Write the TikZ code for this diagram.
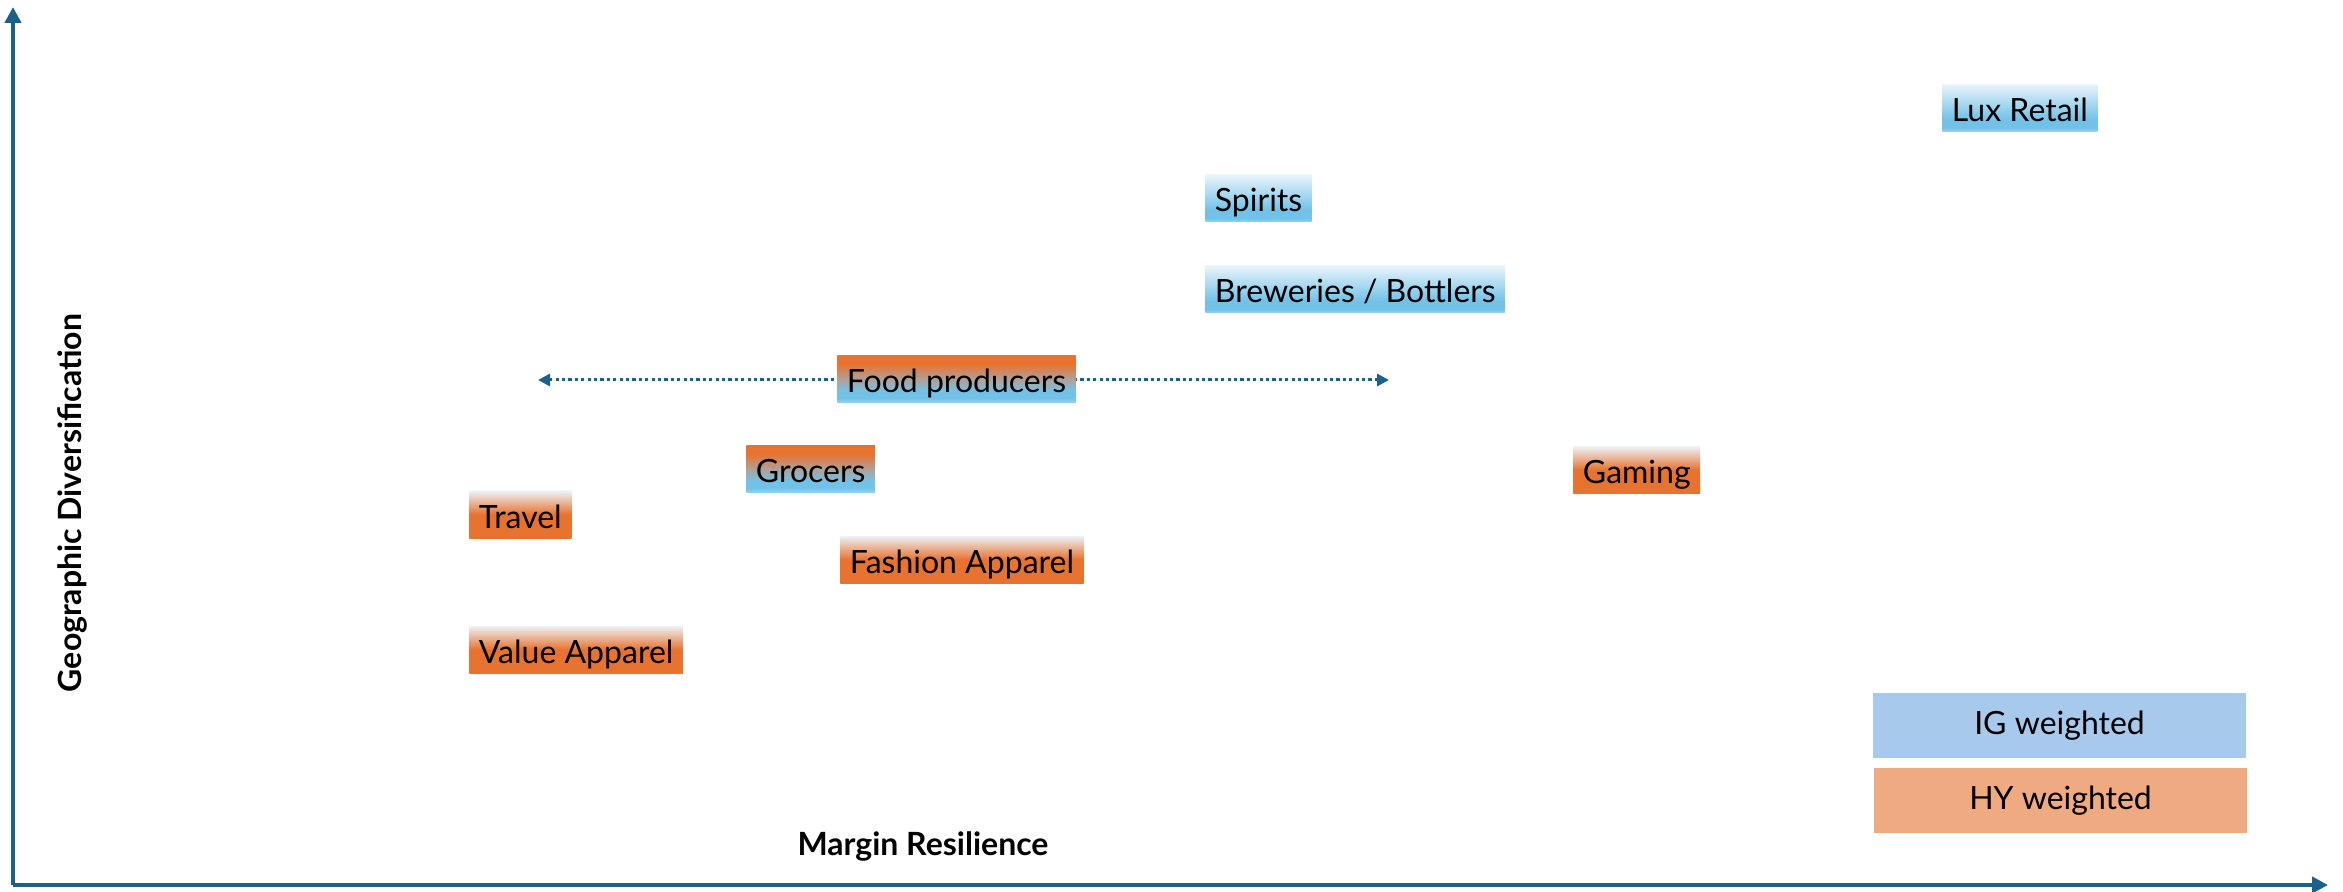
\documentclass[tikz,border=0pt]{standalone}
\usepackage{fontspec}
\setmainfont{Lato}
\usetikzlibrary{arrows.meta}
\definecolor{axisblue}{HTML}{1B6189}
\definecolor{iglegend}{HTML}{A6C9EC}
\definecolor{hylegend}{HTML}{F0AA82}
\definecolor{bluetop}{HTML}{E8F4FB}
\definecolor{bluemid}{HTML}{72C2E8}
\definecolor{bluebot}{HTML}{9CD3EF}
\definecolor{orangetop}{HTML}{EEF1F6}
\definecolor{orangemid}{HTML}{EAB08F}
\definecolor{orangebot}{HTML}{E8722F}
\definecolor{mixgrey}{HTML}{AFA29A}
\pgfdeclareverticalshading{igshade}{100bp}{color(0bp)=(bluebot); color(25bp)=(bluebot); color(29bp)=(bluemid); color(38bp)=(bluemid); color(75bp)=(bluetop); color(100bp)=(bluetop)}
\pgfdeclareverticalshading{hyshade}{100bp}{color(0bp)=(orangebot); color(25bp)=(orangebot); color(50bp)=(orangebot); color(62bp)=(orangemid); color(75bp)=(orangetop); color(100bp)=(orangetop)}
\pgfdeclareverticalshading{mixshade}{100bp}{color(0bp)=(bluebot); color(25bp)=(bluebot); color(30bp)=(bluemid); color(38bp)=(bluemid); color(50bp)=(mixgrey); color(67bp)=(orangebot); color(100bp)=(orangebot)}

\begin{document}
\begin{tikzpicture}[x=0.5pt, y=-0.5pt,
		sector/.style={anchor=west, text height=18.5pt, text depth=5pt, inner xsep=4.75pt, inner ysep=0pt, font=\fontsize{16}{19}\selectfont},
		igbox/.style={sector, shading=igshade},
		hybox/.style={sector, shading=hyshade},
		mixbox/.style={sector, shading=mixshade},
		legend/.style={minimum width=186.5pt, minimum height=32.5pt, inner sep=0pt, font=\fontsize{16}{19}\selectfont},
		axislabel/.style={font=\bfseries\fontsize{16}{19}\selectfont}]
				\useasboundingbox (0,0) rectangle (2343,892);
				% axes
				\coordinate (origin) at (13,885);
				\coordinate (ytip) at (13,7);
				\coordinate (xtip) at (2328,885);
				\draw[axisblue, line width=2pt, -{Triangle[width=8pt,length=8pt]}] (origin) -- (ytip);
				\draw[axisblue, line width=2pt, -{Triangle[width=8pt,length=8pt]}] (origin) -- (xtip);
				\node[axislabel, rotate=90] (ylab) at (72,503) {Geographic Diversification};
				\node[axislabel] (xlab) at (923,846) {Margin Resilience};
				% spread of food producers
				\coordinate (fpl) at (538,380);
				\coordinate (fpr) at (1389,380);
				\draw[axisblue, line width=1.5pt, dash pattern=on 1.6pt off 1.6pt, {Triangle[width=6pt,length=6pt]}-{Triangle[width=6pt,length=6pt]}] (fpl) -- (fpr);
				% sectors
				\node[igbox] (lux) at (1942,108) {Lux Retail};
				\node[igbox] (spirits) at (1205,198.5) {Spirits};
				\node[igbox] (brew) at (1205,289.5) {Breweries / Bottlers};
				\node[mixbox] (food) at (837,379.5) {Food producers};
				\node[mixbox] (grocers) at (746,469.5) {Grocers};
				\foreach \n/\x/\y/\t in {gaming/1573/470/Gaming, travel/469/514.5/Travel, fashion/840/559.5/Fashion Apparel, value/469/649.5/Value Apparel}
					\node[hybox] (\n) at (\x,\y) {\t};
				% legend
				\node[legend, fill=iglegend] (ig) at (2059.5,725.5) {IG weighted};
				\node[legend, fill=hylegend] (hy) at (2060.5,800.5) {HY weighted};
\end{tikzpicture}
\end{document}
